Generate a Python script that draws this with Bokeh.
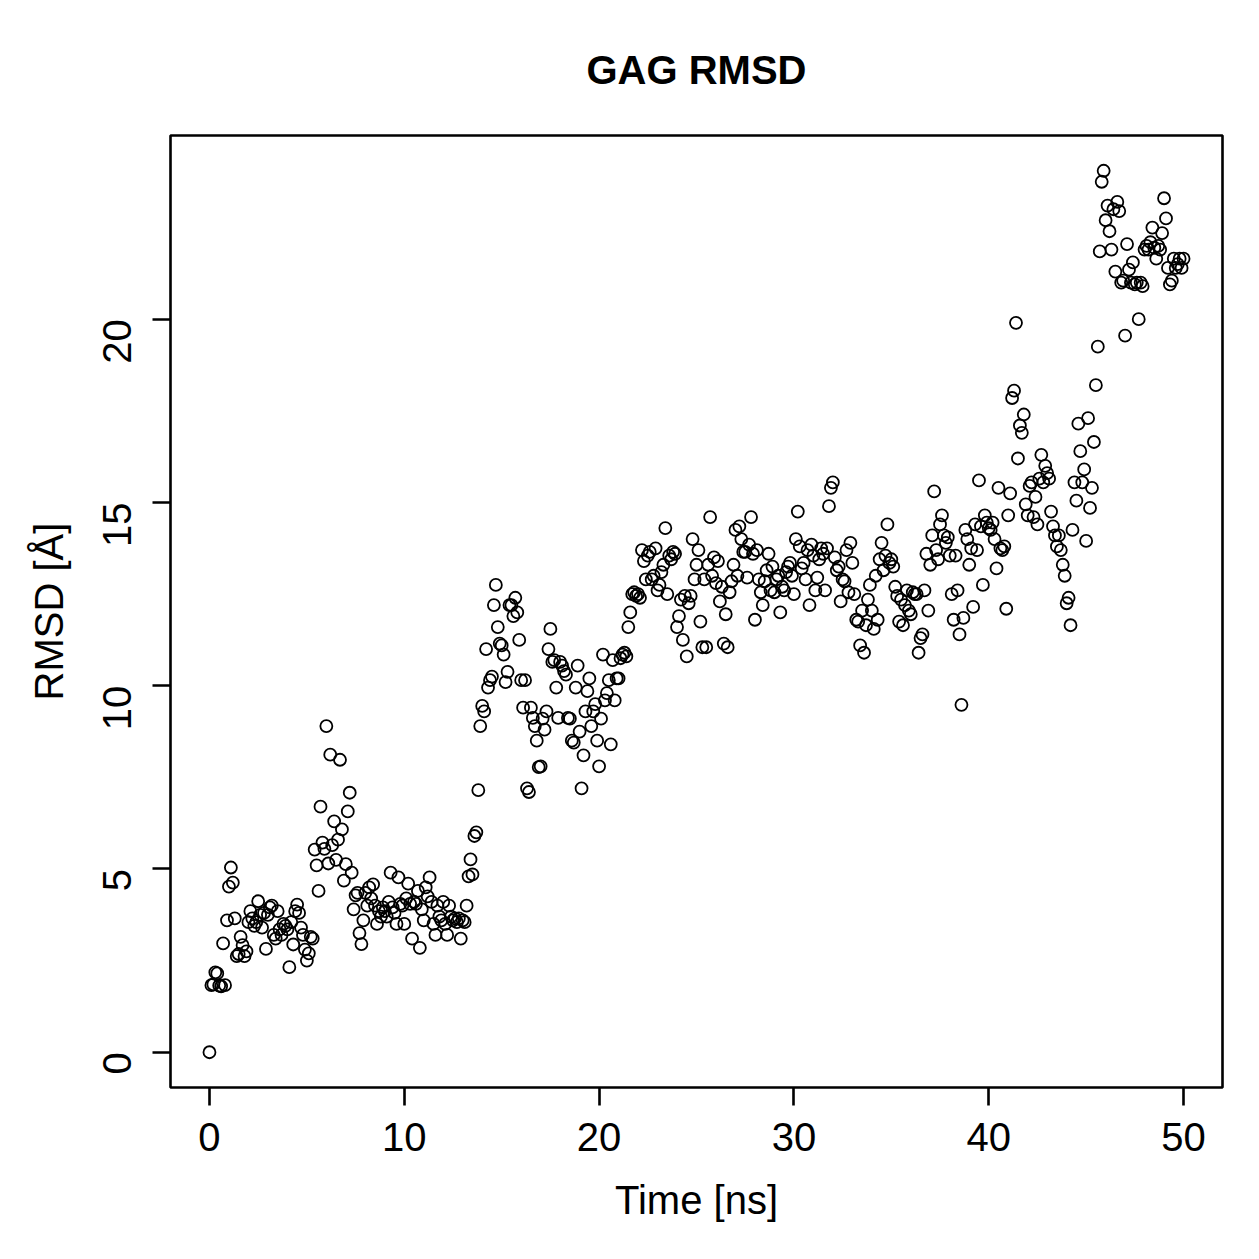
import math
import numpy as np
from bokeh.plotting import figure
from bokeh.models import Range1d, FixedTicker, Title
from bokeh.embed import file_html
from bokeh.resources import INLINE

# RMSD of the GAG chain, one frame every 0.1 ns (0 .. 50 ns)
time_step_ns = 0.1
rmsd = [
    0.00, 1.83, 1.85, 2.18, 2.15, 1.82, 1.80, 2.97, 1.83, 3.60,
    4.52, 5.04, 4.63, 3.65, 2.62, 2.68, 3.15, 2.92, 2.62, 2.75,
    3.55, 3.85, 3.65, 3.45, 3.55, 4.12, 3.75, 3.40, 3.80, 2.82,
    3.75, 3.95, 4.00, 3.20, 3.10, 3.85, 3.35, 3.20, 3.50, 3.45,
    3.35, 2.32, 3.55, 2.94, 3.85, 4.03, 3.80, 3.40, 3.20, 2.80,
    2.50, 2.70, 3.15, 3.10, 5.53, 5.10, 4.40, 6.70, 5.72, 5.55,
    8.90, 5.15, 8.12, 5.65, 6.30, 5.25, 5.80, 7.98, 6.08, 4.68,
    5.13, 6.57, 7.08, 4.90, 3.90, 4.28, 4.35, 3.25, 2.95, 3.60,
    4.35, 4.00, 4.50, 4.20, 4.58, 4.00, 3.50, 3.85, 3.70, 3.95,
    3.85, 3.70, 4.10, 4.90, 3.95, 3.80, 3.50, 4.77, 4.05, 4.00,
    3.50, 4.20, 4.60, 4.05, 3.10, 4.10, 4.05, 4.40, 2.85, 3.90,
    3.60, 4.50, 4.25, 4.77, 4.10, 3.50, 3.20, 4.00, 3.70, 3.60,
    4.10, 3.50, 3.20, 4.00, 3.70, 3.60, 3.65, 3.55, 3.65, 3.10,
    3.60, 3.55, 4.00, 4.80, 5.26, 4.85, 5.90, 6.00, 7.15, 8.90,
    9.45, 9.30, 11.00, 9.95, 10.15, 10.25, 12.20, 12.75, 11.60, 11.15,
    11.10, 10.85, 10.10, 10.38, 12.20, 12.20, 11.90, 12.40, 12.00, 11.25,
    10.15, 9.40, 10.15, 7.20, 7.10, 9.40, 9.12, 8.90, 8.50, 7.78,
    7.80, 9.10, 8.80, 9.30, 11.00, 11.55, 10.65, 10.70, 9.95, 9.12,
    10.65, 10.55, 10.40, 10.30, 9.12, 9.10, 8.50, 8.45, 9.95, 10.55,
    8.75, 7.20, 8.10, 9.30, 9.85, 10.20, 8.90, 9.30, 9.50, 8.50,
    7.80, 9.10, 10.85, 9.60, 9.80, 10.15, 8.40, 10.70, 9.60, 10.20,
    10.20, 10.75, 10.85, 10.90, 10.80, 11.60, 12.00, 12.50, 12.55, 12.45,
    12.50, 12.40, 13.70, 13.40, 12.90, 13.55, 13.65, 12.90, 13.00, 13.75,
    12.60, 12.75, 13.10, 13.30, 14.30, 12.50, 13.55, 13.45, 13.65, 13.60,
    11.60, 11.90, 12.35, 11.25, 12.45, 10.80, 12.25, 12.45, 14.00, 12.90,
    13.30, 13.70, 11.75, 11.05, 12.90, 11.05, 13.30, 14.60, 13.00, 13.50,
    12.80, 13.40, 12.30, 12.70, 11.15, 11.95, 11.05, 12.55, 12.85, 13.30,
    14.25, 13.00, 14.35, 14.00, 13.65, 13.65, 12.95, 13.85, 14.60, 13.60,
    11.80, 13.70, 12.90, 12.55, 12.20, 12.85, 13.15, 13.60, 12.60, 13.25,
    12.55, 12.90, 13.00, 12.00, 12.70, 12.60, 13.10, 13.25, 13.35, 13.00,
    12.50, 14.00, 14.75, 13.80, 13.20, 13.35, 12.90, 13.70, 12.20, 13.85,
    13.55, 12.60, 12.95, 13.45, 13.75, 13.60, 12.60, 13.75, 14.90, 15.40,
    15.55, 13.50, 13.15, 13.25, 12.30, 12.90, 12.85, 13.70, 12.55, 13.90,
    13.35, 12.50, 11.80, 11.75, 11.10, 12.05, 10.90, 11.65, 12.35, 12.75,
    12.05, 11.55, 13.00, 11.80, 13.45, 13.90, 13.15, 13.55, 14.40, 13.35,
    13.45, 13.25, 12.70, 12.45, 11.75, 12.35, 11.65, 12.20, 12.60, 12.05,
    11.95, 12.55, 12.50, 12.50, 10.90, 11.30, 11.40, 12.60, 13.60, 12.05,
    13.30, 14.10, 15.30, 13.70, 13.45, 14.40, 14.65, 14.10, 13.90, 14.05,
    13.55, 12.50, 11.80, 13.55, 12.60, 11.40, 9.48, 11.85, 14.25, 14.00,
    13.30, 13.75, 12.15, 14.40, 13.70, 15.60, 14.35, 12.75, 14.65, 14.45,
    14.30, 14.25, 14.45, 14.00, 13.20, 15.40, 13.75, 13.70, 13.80, 12.10,
    14.65, 15.25, 17.85, 18.05, 19.90, 16.20, 17.10, 16.90, 17.40, 14.95,
    14.65, 15.45, 15.55, 14.60, 15.15, 14.40, 15.65, 16.30, 15.55, 16.00,
    15.80, 15.65, 14.75, 14.35, 14.10, 13.80, 14.10, 13.70, 13.30, 13.00,
    12.25, 12.40, 11.65, 14.25, 15.55, 15.05, 17.15, 16.40, 15.55, 15.90,
    13.95, 17.30, 14.85, 15.40, 16.65, 18.20, 19.25, 21.85, 23.75, 24.05,
    22.70, 23.10, 22.40, 21.90, 23.00, 21.30, 23.20, 22.95, 21.00, 21.05,
    19.55, 22.05, 21.35, 21.00, 21.55, 20.95, 21.00, 20.00, 21.00, 20.90,
    21.90, 22.00, 21.90, 22.10, 22.50, 21.95, 21.65, 22.00, 21.90, 22.35,
    23.30, 22.75, 21.40, 20.95, 21.05, 21.65, 21.40, 21.50, 21.65, 21.40,
    21.65,
]
time_ns = [round(i * time_step_ns, 1) for i in range(len(rmsd))]

x_ticks = [0, 10, 20, 30, 40, 50]
y_ticks = [0, 5, 10, 15, 20]

title_text = "GAG RMSD"
x_label = "Time [ns]"
y_label = "RMSD [Å]"

FONT = "Liberation Sans"

# axis limits padded by 4 % on each side
def padded(lo, hi, frac=0.04):
    d = (hi - lo) * frac
    return lo - d, hi + d

x0, x1 = padded(min(time_ns), max(time_ns))
y0, y1 = padded(min(rmsd), max(rmsd))

p = figure(
    width=1259, height=1259,
    x_range=Range1d(x0, x1), y_range=Range1d(y0, y1),
    output_backend="svg", toolbar_location=None,
    min_border_left=170, min_border_right=37,
    min_border_top=135, min_border_bottom=172,
    background_fill_color="white", border_fill_color="white",
)

p.title = Title(text=title_text, align="center", text_font=FONT,
                text_font_size="40px", text_font_style="bold",
                text_color="black", standoff=88)

p.outline_line_color = "black"
p.outline_line_width = 2.6
p.outline_line_alpha = 1.0
p.xgrid.visible = False
p.ygrid.visible = False

for ax in (p.xaxis[0], p.yaxis[0]):
    ax.axis_line_color = None
    ax.major_tick_line_color = "black"
    ax.major_tick_line_width = 2.6
    ax.major_tick_in = 0
    ax.major_tick_out = 18
    ax.minor_tick_line_color = None
    ax.major_label_text_font = FONT
    ax.major_label_text_font_size = "40px"
    ax.major_label_text_color = "black"
    ax.axis_label_text_font = FONT
    ax.axis_label_text_font_size = "40px"
    ax.axis_label_text_font_style = "normal"
    ax.axis_label_text_color = "black"

p.xaxis[0].ticker = FixedTicker(ticks=x_ticks)
p.yaxis[0].ticker = FixedTicker(ticks=y_ticks)
p.xaxis[0].axis_label = x_label
p.yaxis[0].axis_label = y_label
p.xaxis[0].major_label_standoff = 17
p.xaxis[0].axis_label_standoff = 24
p.yaxis[0].major_label_orientation = math.pi / 2
p.yaxis[0].major_label_standoff = 35
p.yaxis[0].axis_label_standoff = 16

p.scatter(time_ns, rmsd, marker="circle", size=12,
          fill_color=None, line_color="black", line_width=1.8)

open("out.html", "w").write(file_html(p, INLINE))
